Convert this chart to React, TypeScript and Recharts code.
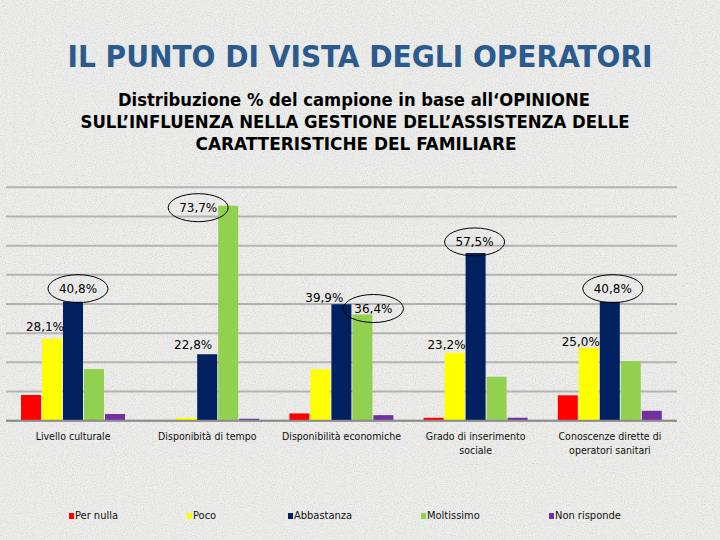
import React from 'react';
import { BarChart, Bar, XAxis, YAxis, CartesianGrid, LabelList, Legend } from 'recharts';

const categories = [
  'Livello culturale',
  'Disponibità di tempo',
  'Disponibilità economiche',
  'Grado di inserimento sociale',
  'Conoscenze dirette di operatori sanitari',
];
const perNulla = [8.8, 0, 2.5, 1.0, 8.7];
const poco = [28.1, 1.0, 17.6, 23.2, 25.0];
const abbastanza = [40.8, 22.8, 39.9, 57.5, 40.8];
const moltissimo = [17.7, 73.7, 36.4, 15.1, 20.5];
const nonRisponde = [2.3, 0.7, 1.9, 1.0, 3.4];

const seriesKeys = ['perNulla', 'poco', 'abbastanza', 'moltissimo', 'nonRisponde'];
const seriesNames = ['Per nulla', 'Poco', 'Abbastanza', 'Moltissimo', 'Non risponde'];
const seriesColors = ['#ff0000', '#ffff00', '#002060', '#92d050', '#7030a0'];
const yTicks = [0, 10, 20, 30, 40, 50, 60, 70, 80];

const titleText = 'IL PUNTO DI VISTA DEGLI OPERATORI';
const subtitleLines = [
  'Distribuzione % del campione in base all\u2018OPINIONE',
  'SULL\u2019INFLUENZA NELLA GESTIONE DELL\u2019ASSISTENZA DELLE',
  'CARATTERISTICHE DEL FAMILIARE',
];

const seriesValues: Record<string, number[]> = { perNulla, poco, abbastanza, moltissimo, nonRisponde };
const data = categories.map((category, i) => {
  const row: Record<string, any> = { category };
  seriesKeys.forEach((k) => { row[k] = seriesValues[k][i]; });
  return row;
});

// label placement (styling, not data): ring = ellipse around label
const LABEL_STYLE: Record<string, { ring: boolean; dx: number; dy: number }> = {
  'poco:0': { ring: false, dx: 2, dy: -12 },
  'abbastanza:0': { ring: true, dx: 5, dy: -13 },
  'abbastanza:1': { ring: false, dx: -5, dy: -10 },
  'moltissimo:1': { ring: true, dx: -30, dy: 2 },
  'abbastanza:2': { ring: false, dx: -8, dy: -7 },
  'moltissimo:2': { ring: true, dx: 11, dy: -6 },
  'poco:3': { ring: false, dx: 1, dy: -9 },
  'abbastanza:3': { ring: true, dx: -1, dy: -11 },
  'poco:4': { ring: false, dx: 1, dy: -6 },
  'abbastanza:4': { ring: true, dx: 3, dy: -13 },
};

const FONT = "'DejaVu Sans Condensed', 'DejaVu Sans', sans-serif";
const LABEL_FONT = "'DejaVu Sans', sans-serif";

const fmt = (v: number) => v.toFixed(1).replace('.', ',') + '%';

const makeLabel = (key: string) => (p: any) => {
  const st = LABEL_STYLE[`${key}:${p.index}`];
  if (!st) return null;
  const x = Number(p.x), y = Number(p.y), w = Number(p.width);
  if (st.ring) {
    const cx = x + w / 2 + st.dx;
    const cy = y + st.dy;
    return (
      <g>
        <ellipse cx={cx} cy={cy} rx={30} ry={14} fill="none" stroke="#000" strokeWidth={1} />
        <text x={cx} y={cy + 4.5} textAnchor="middle" fontFamily={LABEL_FONT} fontSize={12} fill="#000">
          {fmt(Number(p.value))}
        </text>
      </g>
    );
  }
  return (
    <text x={x + w + st.dx} y={y + st.dy + 4.5} textAnchor="end" fontFamily={LABEL_FONT} fontSize={12} fill="#000">
      {fmt(Number(p.value))}
    </text>
  );
};

const wrapLabel = (s: string, maxChars: number) => {
  if (s.length <= 24) return [s];
  const words = s.split(' ');
  const lines: string[] = [];
  let cur = '';
  words.forEach((w) => {
    const next = cur ? cur + ' ' + w : w;
    if (next.length > maxChars && cur) {
      lines.push(cur);
      cur = w;
    } else cur = next;
  });
  if (cur) lines.push(cur);
  return lines;
};

const CategoryTick = (props: any) => {
  const { x, y, payload } = props;
  const lines = wrapLabel(String(payload.value), 22);
  return (
    <text x={x} y={y} textAnchor="middle" fontFamily={FONT} fontSize={10.5} fill="#111">
      {lines.map((ln, i) => (
        <tspan key={i} x={x} y={y + 19 + i * 14}>{ln}</tspan>
      ))}
    </text>
  );
};

const LEGEND_X = [69, 187, 288, 421, 549];
const LegendContent = () => (
  <div style={{ position: 'relative', width: 720, height: 20 }}>
    {seriesNames.map((name, i) => (
      <div
        key={name}
        style={{
          position: 'absolute',
          left: LEGEND_X[i],
          top: 0,
          display: 'flex',
          alignItems: 'center',
          fontFamily: FONT,
          fontSize: 11,
          color: '#111',
          whiteSpace: 'nowrap',
        }}
      >
        <span style={{ display: 'inline-block', width: 5, height: 6, background: seriesColors[i], marginRight: 1 }} />
        {name}
      </div>
    ))}
  </div>
);

export default function App() {
  return (
    <div style={{ position: 'absolute', left: 0, top: 0, width: 720, height: 540, overflow: 'hidden', background: '#e8e8e6' }}>
      <svg width={720} height={540} style={{ position: 'absolute', left: 0, top: 0 }}>
        <defs>
          <filter id="noise" x="0" y="0" width="100%" height="100%">
            <feTurbulence type="fractalNoise" baseFrequency="0.9" numOctaves={2} seed={3} />
            <feColorMatrix type="matrix" values="0 0 0 0 0.5  0 0 0 0 0.5  0 0 0 0 0.5  0 0 0 -2.6 1.45" />
          </filter>
        </defs>
        <rect x={0} y={0} width={720} height={540} fill="#ededeb" />
        <rect x={0} y={0} width={720} height={540} filter="url(#noise)" opacity={0.4} />
      </svg>
      <div style={{ position: 'absolute', left: 0, top: 0 }}>
        <BarChart
          width={720}
          height={540}
          data={data}
          margin={{ top: 187.3, left: 6, right: 43, bottom: 79.3 }}
          barCategoryGap={15}
          barGap={1}
        >
          <CartesianGrid vertical={false} stroke="#b3b3b3" strokeWidth={2} />
          <YAxis hide domain={[0, 80]} ticks={yTicks} />
          <XAxis
            dataKey="category"
            interval={0}
            height={40}
            tickLine={false}
            tickSize={0}
            tickMargin={0}
            axisLine={{ stroke: '#8c8c8c', strokeWidth: 2 }}
            tick={<CategoryTick />}
          />
          <Legend
            verticalAlign="middle"
            layout="horizontal"
            content={<LegendContent />}
            wrapperStyle={{ top: 509, left: 0, width: 720 }}
          />
          {seriesKeys.map((k, i) => (
            <Bar key={k} dataKey={k} name={seriesNames[i]} fill={seriesColors[i]} isAnimationActive={false}>
              <LabelList dataKey={k} content={makeLabel(k)} />
            </Bar>
          ))}
        </BarChart>
      </div>
      <svg width={720} height={170} style={{ position: 'absolute', left: 0, top: 0, pointerEvents: 'none' }}>
        <text x={360} y={67} textAnchor="middle" fontFamily={FONT} fontWeight="bold" fontSize={31} fill="#2a5a8e"
          textLength={585} lengthAdjust="spacingAndGlyphs">
          {titleText}
        </text>
        <text x={354} y={106} textAnchor="middle" fontFamily={FONT} fontWeight="bold" fontSize={17} fill="#000"
          textLength={472} lengthAdjust="spacingAndGlyphs">
          {subtitleLines[0]}
        </text>
        <text x={355} y={128} textAnchor="middle" fontFamily={FONT} fontWeight="bold" fontSize={17} fill="#000"
          textLength={549} lengthAdjust="spacingAndGlyphs">
          {subtitleLines[1]}
        </text>
        <text x={356} y={150} textAnchor="middle" fontFamily={FONT} fontWeight="bold" fontSize={17} fill="#000"
          textLength={321} lengthAdjust="spacingAndGlyphs">
          {subtitleLines[2]}
        </text>
      </svg>
    </div>
  );
}
